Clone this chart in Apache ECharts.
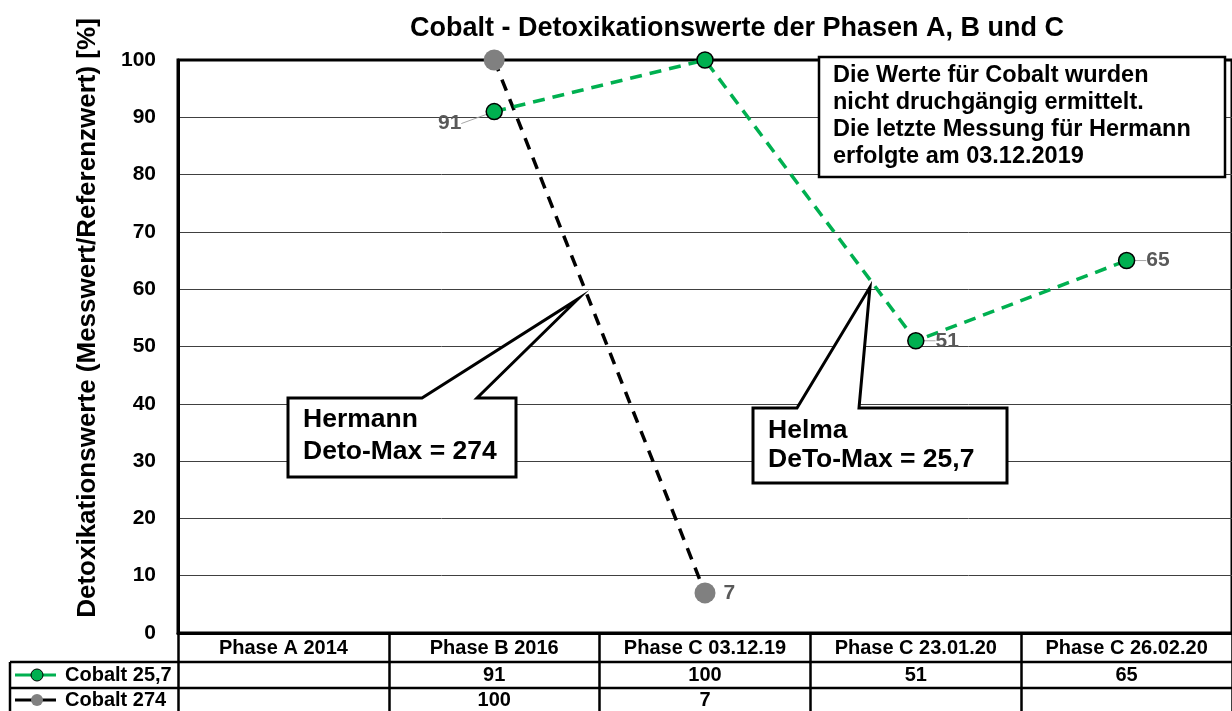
<!DOCTYPE html>
<html>
<head>
<meta charset="utf-8">
<title>Cobalt - Detoxikationswerte</title>
<script src="https://cdn.jsdelivr.net/npm/echarts@6/dist/echarts.min.js"></script>
<style>
  html, body { margin: 0; padding: 0; background: #fff; }
  #chart { width: 1232px; height: 711px; }
</style>
</head>
<body>
<div id="chart"></div>
<script>
// Daten
const categories = ['Phase A 2014', 'Phase B 2016', 'Phase C 03.12.19', 'Phase C 23.01.20', 'Phase C 26.02.20'];
const helmaName = 'Cobalt 25,7';
const helmaValues = [null, 91, 100, 51, 65];
const hermannName = 'Cobalt 274';
const hermannValues = [null, 100, 7, null, null];
// Punkte ohne Beschriftung im Diagramm
const helmaNoLabel = [2];
const hermannNoLabel = [1];

const yName = 'Detoxikationswerte (Messwert/Referenzwert) [%]';
const noteText = 'Die Werte für Cobalt wurden\nnicht druchgängig ermittelt.\nDie letzte Messung für Hermann\nerfolgte am 03.12.2019';
const hermannNote = 'Hermann\nDeto-Max = 274';
const helmaNote = 'Helma\nDeTo-Max = 25,7';

const FONT = '"Liberation Sans", Arial, sans-serif';
const GREEN = '#00B050';
const GREY = '#808080';
const LABEL = '#595959';

function points(values, hidden) {
  return values.map((v, i) => ({
    value: v,
    label: { show: v != null && hidden.indexOf(i) < 0 }
  }));
}

const chart = echarts.init(document.getElementById('chart'));

const option = {
  animation: false,
  textStyle: { fontFamily: FONT },
  title: {
    text: 'Cobalt - Detoxikationswerte der Phasen A, B und C',
    left: 732,
    textAlign: 'center',
    top: 10,
    textStyle: { fontFamily: FONT, fontSize: 27, fontWeight: 'bold', color: '#000' }
  },
  grid: {
    left: 178, top: 60, right: -4, bottom: 78,
    show: true, borderColor: '#000', borderWidth: 3
  },
  xAxis: {
    type: 'category',
    data: categories,
    axisLine: { lineStyle: { color: '#000', width: 3 } },
    axisTick: { show: true, interval: 0, length: 78, lineStyle: { color: '#000', width: 2.5 } },
    axisLabel: { interval: 0, margin: 5, color: '#000', fontSize: 20, fontWeight: 'bold', fontFamily: FONT },
    splitLine: { show: false }
  },
  yAxis: {
    type: 'value',
    min: 0, max: 100, interval: 10,
    axisLine: { show: true, lineStyle: { color: '#000', width: 3 } },
    axisTick: { show: false },
    axisLabel: { margin: 22, color: '#000', fontSize: 21, fontWeight: 'bold', fontFamily: FONT },
    splitLine: { show: true, showMinLine: false, showMaxLine: false, lineStyle: { color: '#404040', width: 1 } }
  },
  series: [
    {
      name: helmaName,
      type: 'line',
      z: 3,
      data: points(helmaValues, helmaNoLabel),
      symbol: 'circle',
      symbolSize: 16,
      clip: false,
      itemStyle: { color: GREEN, borderColor: '#000', borderWidth: 1.5 },
      lineStyle: { color: GREEN, width: 3.5, type: [12, 8] },
      label: {
        position: 'right', distance: 11,
        color: LABEL, fontSize: 21, fontWeight: 'bold', fontFamily: FONT
      },
      labelLine: { show: true, lineStyle: { color: '#A6A6A6', width: 1 } },
      labelLayout: function (p) {
        if (p.dataIndex === 1) return { dx: -76, dy: 12 };
        return {};
      }
    },
    {
      name: hermannName,
      type: 'line',
      z: 2,
      data: points(hermannValues, hermannNoLabel),
      symbol: 'circle',
      symbolSize: 21,
      clip: false,
      itemStyle: { color: GREY, borderWidth: 0 },
      lineStyle: { color: '#000', width: 3.5, type: [12, 9] },
      label: {
        position: 'right', distance: 8,
        color: LABEL, fontSize: 21, fontWeight: 'bold', fontFamily: FONT
      }
    }
  ]
};

chart.setOption(option);

// Datentabelle, Legendenfelder, Achsentitel und Hinweise
function buildGraphics() {
  const g = [];
  const lineStyle = { stroke: '#000', lineWidth: 2.5 };
  const textStyle = { fontFamily: FONT, fontSize: 20, fontWeight: 'bold', fill: '#000' };
  const rowLines = [662, 688];
  const rowCenters = [675, 700];

  // Y-Achsentitel
  g.push({
    type: 'text', z: 10, x: 88, y: 318, rotation: Math.PI / 2,
    style: { text: yName, fontFamily: FONT, fontSize: 26, fontWeight: 'bold', fill: '#000', align: 'center', verticalAlign: 'middle' }
  });

  rowLines.forEach(y => {
    g.push({ type: 'line', z: 50, shape: { x1: 10, y1: y, x2: 1232, y2: y }, style: lineStyle });
  });
  g.push({ type: 'line', z: 50, shape: { x1: 10, y1: 662, x2: 10, y2: 711 }, style: lineStyle });

  const rows = [
    { name: helmaName, values: helmaValues, line: GREEN, dot: GREEN, border: '#000' },
    { name: hermannName, values: hermannValues, line: '#000', dot: GREY, border: null }
  ];
  rows.forEach((row, r) => {
    const y = rowCenters[r];
    g.push({ type: 'line', z: 50, shape: { x1: 15, y1: y, x2: 56, y2: y }, style: { stroke: row.line, lineWidth: 3 } });
    g.push({
      type: 'circle', z: 51, shape: { cx: 37, cy: y, r: 6 },
      style: { fill: row.dot, stroke: row.border, lineWidth: row.border ? 1 : 0 }
    });
    g.push({
      type: 'text', z: 51, x: 65, y: y,
      style: Object.assign({ text: row.name, verticalAlign: 'middle', align: 'left' }, textStyle)
    });
    row.values.forEach((v, i) => {
      if (v == null) return;
      const cx = chart.convertToPixel({ xAxisIndex: 0 }, categories[i]);
      g.push({
        type: 'text', z: 51, x: cx, y: y,
        style: Object.assign({ text: String(v), verticalAlign: 'middle', align: 'center' }, textStyle)
      });
    });
  });

  // Hinweisfeld oben rechts
  g.push({
    type: 'rect', z: 60, shape: { x: 819, y: 57, width: 406, height: 120 },
    style: { fill: '#fff', stroke: '#000', lineWidth: 2.5 }
  });
  g.push({
    type: 'text', z: 61, x: 833, y: 62,
    style: { text: noteText, fontFamily: FONT, fontSize: 23.5, fontWeight: 'bold', fill: '#000', lineHeight: 27, verticalAlign: 'top' }
  });

  // Sprechblasen
  g.push({
    type: 'polygon', z: 40,
    shape: { points: [[288, 398], [422, 398], [578, 299], [477, 398], [516, 398], [516, 477], [288, 477]] },
    style: { fill: '#fff', stroke: '#000', lineWidth: 3 }
  });
  g.push({
    type: 'text', z: 41, x: 303, y: 404,
    style: { text: hermannNote, fontFamily: FONT, fontSize: 26.5, fontWeight: 'bold', fill: '#000', lineHeight: 32, verticalAlign: 'top' }
  });
  g.push({
    type: 'polygon', z: 40,
    shape: { points: [[753, 408], [797, 408], [870, 287], [859, 408], [1007, 408], [1007, 483], [753, 483]] },
    style: { fill: '#fff', stroke: '#000', lineWidth: 3 }
  });
  g.push({
    type: 'text', z: 41, x: 768, y: 416,
    style: { text: helmaNote, fontFamily: FONT, fontSize: 26.5, fontWeight: 'bold', fill: '#000', lineHeight: 29, verticalAlign: 'top' }
  });

  chart.setOption({ graphic: g });
}

buildGraphics();
</script>
</body>
</html>
